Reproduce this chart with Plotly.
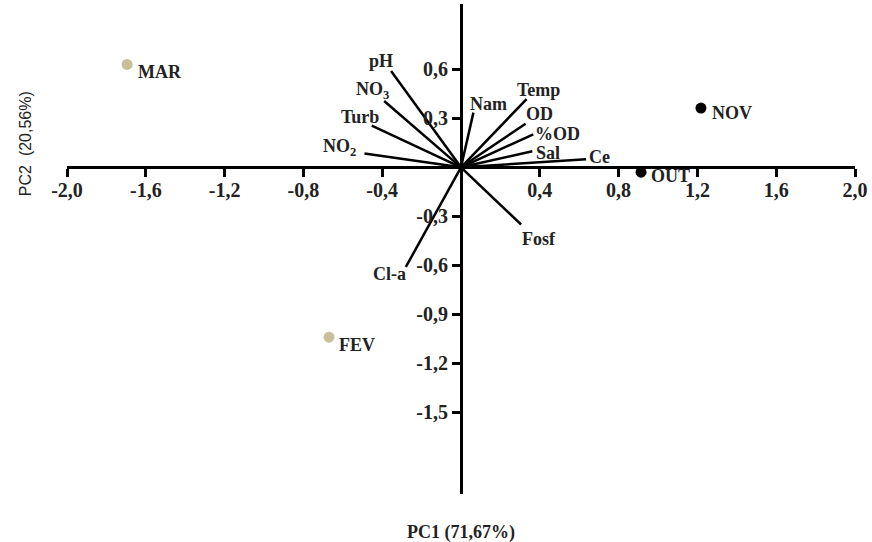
import plotly.graph_objects as go

# --- data ---
var_names = ["pH", "NO<sub>3</sub>", "Turb", "NO<sub>2</sub>", "Nam", "Temp", "OD", "%OD", "Sal", "Ce", "Fosf", "Cl-a"]
var_pc1 = [-0.355, -0.39, -0.453, -0.49, 0.063, 0.333, 0.328, 0.367, 0.362, 0.635, 0.305, -0.28]
var_pc2 = [0.59, 0.406, 0.255, 0.084, 0.335, 0.418, 0.267, 0.202, 0.098, 0.049, -0.35, -0.61]

months = ["MAR", "FEV", "NOV", "OUT"]
month_pc1 = [-1.695, -0.67, 1.218, 0.914]
month_pc2 = [0.63, -1.04, 0.363, -0.03]
month_group = ["wet", "wet", "dry", "dry"]

x_tickvals = [-2.0, -1.6, -1.2, -0.8, -0.4, 0.4, 0.8, 1.2, 1.6, 2.0]
x_ticktext = ["-2,0", "-1,6", "-1,2", "-0,8", "-0,4", "0,4", "0,8", "1,2", "1,6", "2,0"]
y_tickvals = [0.6, 0.3, -0.3, -0.6, -0.9, -1.2, -1.5]
y_ticktext = ["0,6", "0,3", "-0,3", "-0,6", "-0,9", "-1,2", "-1,5"]

# --- styling ---
var_label_shift = [(-10, 10), (-12, 11), (-12, 9), (-25, 6), (15, 9), (12, 9),
                   (14, 10), (24, 0), (16, -2), (13, 2), (18, -14), (-16, -7)]
month_label_shift = [(33, -8), (28, -8), (31, -5), (29, -4)]
group_color = {"wet": "#c8bf98", "dry": "#000000"}
serif = "Liberation Serif"
txt_color = "#222222"

fig = go.Figure()

# vectors
vx, vy = [], []
for a, b in zip(var_pc1, var_pc2):
    vx += [0, a, None]
    vy += [0, b, None]
fig.add_trace(go.Scatter(x=vx, y=vy, mode="lines",
                         line=dict(color="black", width=2.5),
                         hoverinfo="skip", showlegend=False))

# month points
fig.add_trace(go.Scatter(x=month_pc1, y=month_pc2, mode="markers",
                         marker=dict(size=11, color=[group_color[g] for g in month_group]),
                         text=months, showlegend=False))

for name, a, b, (dx, dy) in zip(var_names, var_pc1, var_pc2, var_label_shift):
    fig.add_annotation(x=a, y=b, text=name, showarrow=False, xshift=dx, yshift=dy,
                       xanchor="center", yanchor="middle",
                       font=dict(family=serif, size=18, color=txt_color, weight="bold"))

for name, a, b, (dx, dy) in zip(months, month_pc1, month_pc2, month_label_shift):
    fig.add_annotation(x=a, y=b, text=name, showarrow=False, xshift=dx, yshift=dy,
                       xanchor="center", yanchor="middle",
                       font=dict(family=serif, size=18, color=txt_color, weight="bold"))

# axis titles
fig.add_annotation(x=0.5, y=0.0, xref="paper", yref="paper", yshift=-38,
                   text="PC1 (71,67%)", showarrow=False, xanchor="center", yanchor="middle",
                   font=dict(family=serif, size=18, color=txt_color, weight="bold"))
fig.add_annotation(x=0, y=0.714, xref="paper", yref="paper", xshift=-42,
                   text="PC2  (20,56%)", showarrow=False, textangle=-90,
                   xanchor="center", yanchor="middle",
                   font=dict(family="Liberation Sans", size=16, color=txt_color))

fig.update_layout(
    width=872, height=542,
    margin=dict(l=67, r=17, t=4, b=48, autoexpand=False),
    plot_bgcolor="white", paper_bgcolor="white",
    xaxis=dict(range=[-2.0, 2.0], anchor="free", position=2/3,
               showline=True, linecolor="black", linewidth=3,
               ticks="outside", ticklen=8, tickwidth=3, tickcolor="black",
               tickvals=x_tickvals, ticktext=x_ticktext, ticklabelstandoff=-4,
               tickfont=dict(family=serif, size=20, color=txt_color, weight="bold"),
               showgrid=False, zeroline=False),
    yaxis=dict(range=[-2.0, 1.0], anchor="free", position=0.5,
               showline=True, linecolor="black", linewidth=3,
               ticks="outside", ticklen=8, tickwidth=3, tickcolor="black",
               tickvals=y_tickvals, ticktext=y_ticktext,
               tickfont=dict(family=serif, size=20, color=txt_color, weight="bold"),
               showgrid=False, zeroline=False),
)

fig.write_html("out.html", config={"displayModeBar": False},
               post_script="document.body.style.margin='0';document.body.style.overflow='hidden';")
